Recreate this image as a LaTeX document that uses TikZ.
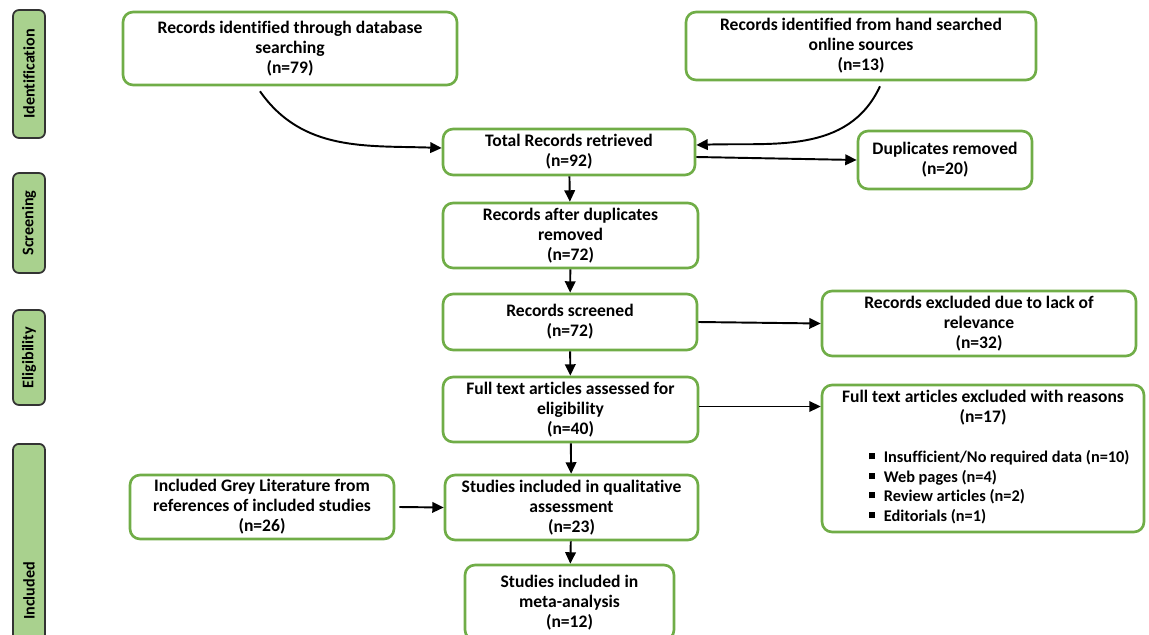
\documentclass[tikz,border=0pt]{standalone}
\usepackage{fontspec}
\setmainfont{Carlito}[Ligatures=NoCommon]
\usepackage{tikz}
\usetikzlibrary{arrows.meta}
\definecolor{boxgreen}{RGB}{112,173,71}
\definecolor{tabgreen}{RGB}{169,209,142}
\tikzset{
	prbox/.style={draw=boxgreen, line width=1.5pt, rounded corners=0.2cm, align=center, inner sep=2pt, font=\bfseries\fontsize{10}{11.4}\selectfont},
	stage/.style={draw=black!80, fill=tabgreen, line width=1pt, rounded corners=0.12cm, rotate=90, minimum height=0.64cm, inner sep=0pt, font=\bfseries\fontsize{9.2}{11}\selectfont},
	flow/.style={->, line width=1.1pt}
}
\begin{document}
\begin{tikzpicture}[x=0.02cm, y=-0.02cm, >={Triangle[length=6.5pt,width=6pt]}]
		\useasboundingbox (0,0) rectangle (1149,635);
		% stages
		\node[stage, minimum width=2.56cm] (ident) at (29,74) {Identification};
		\node[stage, minimum width=2.0cm] (screen) at (29,223) {Screening};
		\node[stage, minimum width=1.9cm] (elig) at (29,357.5) {Eligibility};
		\node[stage, minimum width=5.88cm, anchor=east] (incl) at (29,443) {Included};
		% boxes
		\node[prbox, minimum width=6.68cm, minimum height=1.46cm] (db) at (290,48.5) {Records identified through database\\searching\\(n=79)};
		\node[prbox, minimum width=7.0cm, minimum height=1.36cm] (hand) at (861,46) {Records identified from hand searched\\online sources\\(n=13)};
		\node[prbox, minimum width=5.04cm, minimum height=0.92cm] (total) at (569,152) {Total Records retrieved\\(n=92)};
		\node[prbox, minimum width=3.48cm, minimum height=1.16cm] (dup) at (945,160) {Duplicates removed\\(n=20)};
		\node[prbox, minimum width=5.1cm, minimum height=1.3cm] (afterdup) at (570.5,235.5) {Records after duplicates\\removed\\(n=72)};
		\node[prbox, minimum width=5.08cm, minimum height=1.12cm] (screened) at (570,322) {Records screened\\(n=72)};
		\node[prbox, minimum width=6.28cm, minimum height=1.3cm] (excl) at (979,323.5) {Records excluded due to lack of\\relevance\\(n=32)};
		\node[prbox, minimum width=5.1cm, minimum height=1.3cm] (full) at (570.5,409.5) {Full text articles assessed for\\eligibility\\(n=40)};
		\node[prbox, minimum width=6.44cm, minimum height=2.94cm] (fullex) at (983,458.5) {Full text articles excluded with reasons\\(n=17)\\[0.44cm]
			\hspace*{0.64cm}{\fontsize{9.3}{11.1}\selectfont\begin{tabular}{@{}l@{\hspace{0.18cm}}l@{}}
				\rule[1.8pt]{3.6pt}{3.6pt} & Insufficient/No required data (n=10)\\
				\rule[1.8pt]{3.6pt}{3.6pt} & Web pages (n=4)\\
				\rule[1.8pt]{3.6pt}{3.6pt} & Review articles (n=2)\\
				\rule[1.8pt]{3.6pt}{3.6pt} & Editorials (n=1)
			\end{tabular}}};
		\node[prbox, minimum width=5.28cm, minimum height=1.28cm] (grey) at (262,507) {Included Grey Literature from\\references of included studies\\(n=26)};
		\node[prbox, minimum width=5.06cm, minimum height=1.3cm] (qual) at (571.5,507.5) {Studies included in qualitative\\assessment\\(n=23)};
		\node[prbox, minimum width=4.18cm, minimum height=1.5cm] (meta) at (569.5,602.5) {Studies included in\\meta-analysis\\(n=12)};
		% arrows
		\draw[flow] ([xshift=-0.6cm,yshift=-0.1cm]db.south) to[out=-55, in=178] ([yshift=0.08cm]total.west);
		\draw[flow] ([xshift=0.38cm,yshift=-0.1cm]hand.south) to[out=-115, in=2] ([yshift=0.14cm]total.east);
		\draw[flow] ([yshift=-0.1cm]total.east) -- (dup.west);
		\draw[flow] (total) -- (afterdup);
		\draw[flow] (afterdup) -- (screened);
		\draw[flow] (screened.east) -- (excl.west);
		\draw[flow] (screened) -- (full);
		\draw[flow] ([yshift=0.06cm]full.east) -- ([yshift=0.06cm]full.east -| fullex.west);
		\draw[flow] (full) -- (qual);
		\draw[flow] ([xshift=0.08cm]grey.east) -- (qual.west);
		\draw[flow] (qual) -- (meta);
\end{tikzpicture}
\end{document}
